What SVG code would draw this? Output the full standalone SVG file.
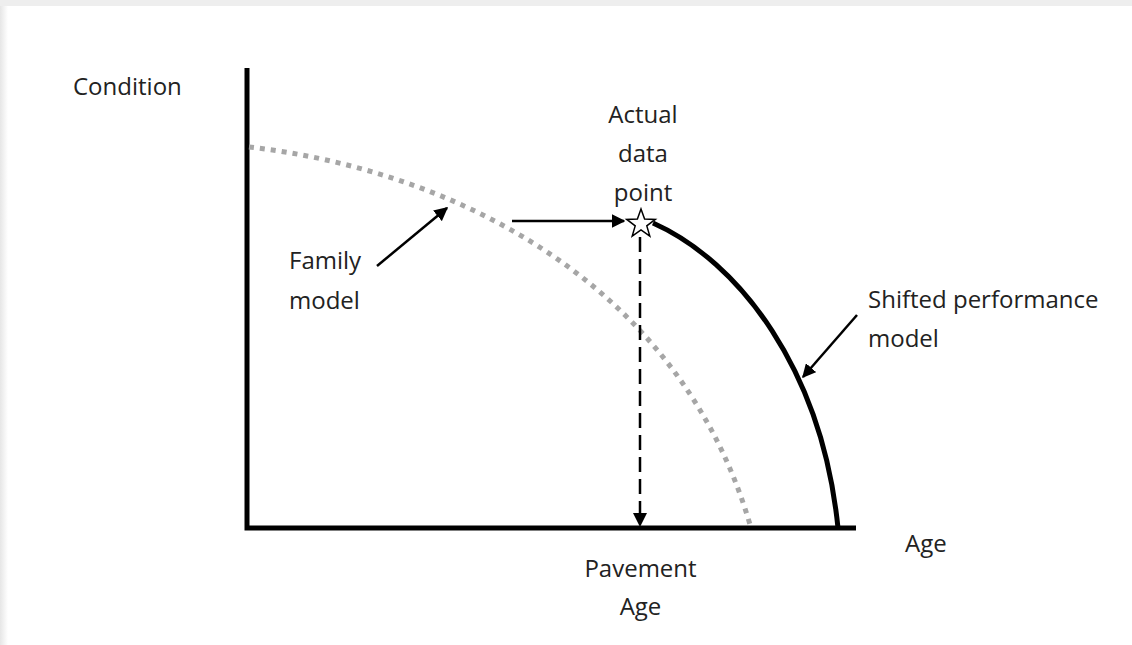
<svg xmlns="http://www.w3.org/2000/svg" width="1132" height="645" viewBox="0 0 1132 645">
  <defs>
    <style>
      text { font-family: "Open Sans", "Liberation Sans", sans-serif; font-size: 24px; fill: #222222; }
      .axis { stroke: #000; stroke-width: 5; fill: none; }
      .arrow { stroke: #000; stroke-width: 2.5; fill: none; marker-end: url(#ah); }
    </style>
    <marker id="ah" viewBox="0 0 10 10" refX="9" refY="5" markerWidth="5.5" markerHeight="5.5" markerUnits="strokeWidth" orient="auto">
      <path d="M0,0 L10,5 L0,10 Z" fill="#000"/>
    </marker>
    <linearGradient id="lg" x1="0" y1="0" x2="1" y2="0">
      <stop offset="0" stop-color="#e6e6e6"/>
      <stop offset="1" stop-color="#ffffff"/>
    </linearGradient>
  </defs>
  <rect width="1132" height="645" fill="#ffffff"/>
  <rect x="0" y="0" width="8" height="645" fill="url(#lg)"/>
  <rect x="0" y="0" width="1132" height="6" fill="#eeeeee"/>

  <g id="axes">
    <polyline class="axis" points="247,68 247,528 856,528"/>
  </g>

  <g id="family-curve">
    <path d="M249,147 C450,170 680,280 751,528" fill="none" stroke="#a6a6a6" stroke-width="5" stroke-dasharray="5 6"/>
  </g>

  <g id="shifted-curve">
    <path d="M653,223 C740,262 822,370 838,528" fill="none" stroke="#000" stroke-width="5"/>
  </g>

  <g id="connectors">
    <line class="arrow" x1="512" y1="221" x2="624" y2="221"/>
    <line x1="640" y1="237" x2="640" y2="514" stroke="#000" stroke-width="2.5" stroke-dasharray="15 7"/>
    <path d="M633,513 L647,513 L640,527 Z" fill="#000"/>
    <line class="arrow" x1="377" y1="266" x2="447" y2="208"/>
    <line class="arrow" x1="857" y1="315" x2="803" y2="377"/>
  </g>

  <g id="data-point">
    <polygon points="641,209 644.6,219.1 655.3,219.4 646.8,225.9 649.8,236.1 641,230 632.2,236.1 635.2,225.9 626.7,219.4 637.4,219.1" fill="#fff" stroke="#000" stroke-width="1.5" stroke-linejoin="miter"/>
  </g>

  <g id="labels">
    <text x="73" y="95">Condition</text>
    <text x="643" y="123" text-anchor="middle">Actual</text>
    <text x="643" y="162" text-anchor="middle">data</text>
    <text x="643" y="201" text-anchor="middle">point</text>
    <text x="289" y="269">Family</text>
    <text x="289" y="309">model</text>
    <text x="868" y="308">Shifted performance</text>
    <text x="868" y="347">model</text>
    <text x="905" y="552">Age</text>
    <text x="640.5" y="577" text-anchor="middle">Pavement</text>
    <text x="640.5" y="615" text-anchor="middle">Age</text>
  </g>
</svg>
